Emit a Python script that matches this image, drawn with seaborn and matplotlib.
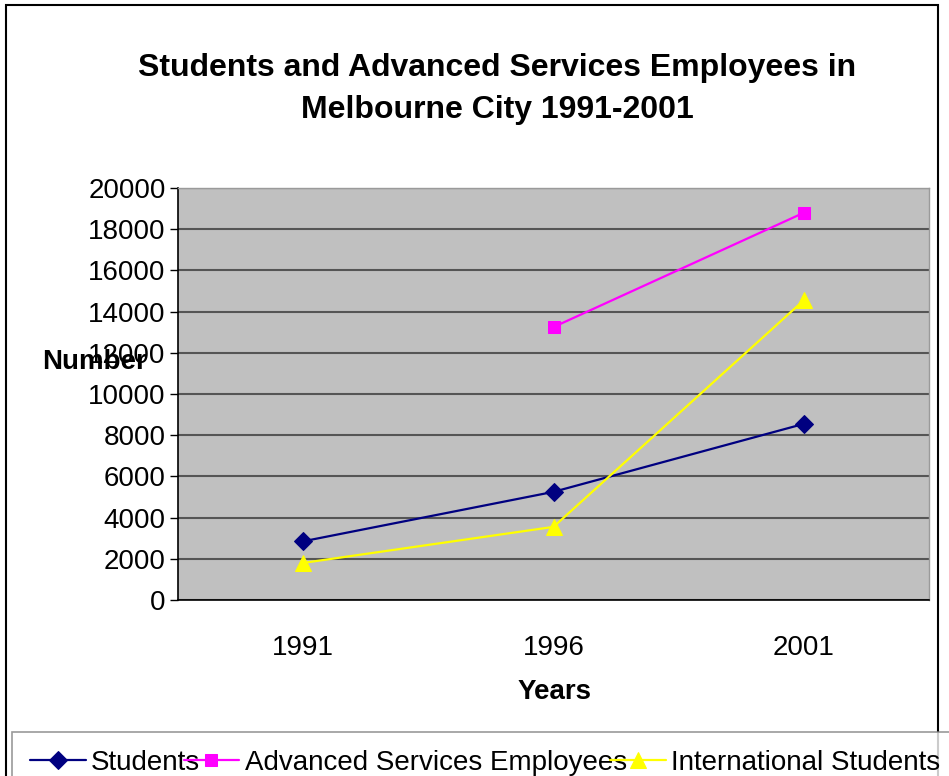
import numpy as np
import pandas as pd
import seaborn as sns
import matplotlib.pyplot as plt
from matplotlib.patches import Rectangle

### data
years = ["1991", "1996", "2001"]
students = [2850, 5250, 8550]
advanced = [np.nan, 13250, 18800]
international = [1800, 3550, 14550]

series_names = ["Students", "Advanced Services Employees", "International Students"]
series_vals = [students, advanced, international]
colors = ["#000080", "#FF00FF", "#FFFF00"]
markers = ["D", "s", "^"]
msizes = [9, 9, 11]

sns.set_style("white")
plt.rcParams["font.family"] = ["Liberation Sans", "DejaVu Sans"]
plt.rcParams["text.color"] = "black"
plt.rcParams["axes.labelcolor"] = "black"
plt.rcParams["xtick.color"] = "black"
plt.rcParams["ytick.color"] = "black"

fig = plt.figure(figsize=(9.49, 7.76), dpi=100)
ax = fig.add_axes([178/949, 1-600/776, (929-178)/949, (600-188)/776])
ax.set_facecolor("#C0C0C0")

for name, vals, c, m, ms in zip(series_names, series_vals, colors, markers, msizes):
    df = pd.DataFrame({"x": range(len(years)), "y": vals}).dropna()
    sns.lineplot(data=df, x="x", y="y", ax=ax, color=c, marker=m, markersize=ms,
                 markeredgecolor=c, linewidth=1.6, label=name)

ax.set_xlim(-0.5, 2.5)
ax.set_ylim(0, 20000)
ax.set_yticks(range(0, 20001, 2000))
ax.set_yticklabels([str(v) for v in range(0, 20001, 2000)], fontsize=20)
ax.set_xticks([0, 1, 2])
ax.set_xticklabels(years, fontsize=20)
ax.set_xticks([-0.5, 0.5, 1.5, 2.5], minor=True)
ax.tick_params(axis="x", which="major", length=0, pad=25)
ax.tick_params(axis="x", which="minor", length=7, width=1, color="black", direction="out")
ax.tick_params(axis="y", length=6, width=1, color="black", direction="out", left=True, pad=3)
ax.grid(axis="y", color="#555555", linewidth=1.5)
ax.set_axisbelow(True)
for s in ["left", "bottom"]:
    ax.spines[s].set_color("black")
    ax.spines[s].set_linewidth(1.2)
for s in ["top", "right"]:
    ax.spines[s].set_color("#9a9a9a")
    ax.spines[s].set_linewidth(1)

ax.set_xlabel("")
ax.set_ylabel("")
fig.text(555/949, 1-692/776, "Years", fontsize=20, fontweight="bold", ha="center", va="center")
fig.text(95/949, 1-362/776, "Number", fontsize=20, fontweight="bold", ha="center", va="center")
fig.text(497/949, 1-89/776, "Students and Advanced Services Employees in\nMelbourne City 1991-2001",
         fontsize=23, fontweight="bold", ha="center", va="center", linespacing=1.5)

ax.get_legend().remove()
handles, labels = ax.get_legend_handles_labels()
leg = fig.legend(handles, labels, loc="upper left", bbox_to_anchor=(12/949, 1-732/776),
                 ncol=3, fontsize=20, frameon=True, fancybox=False, edgecolor="#808080",
                 borderaxespad=0, handlelength=2.0, handletextpad=0.2, columnspacing=-0.6,
                 borderpad=0.65)
leg.get_frame().set_linewidth(1.2)

# chart area border
fig.patches.append(Rectangle((6/949, -0.01), (938-6)/949, 1-5/776 + 0.01, transform=fig.transFigure,
                             fill=False, edgecolor="black", linewidth=1.5))

fig.savefig("out.png", dpi=100)
